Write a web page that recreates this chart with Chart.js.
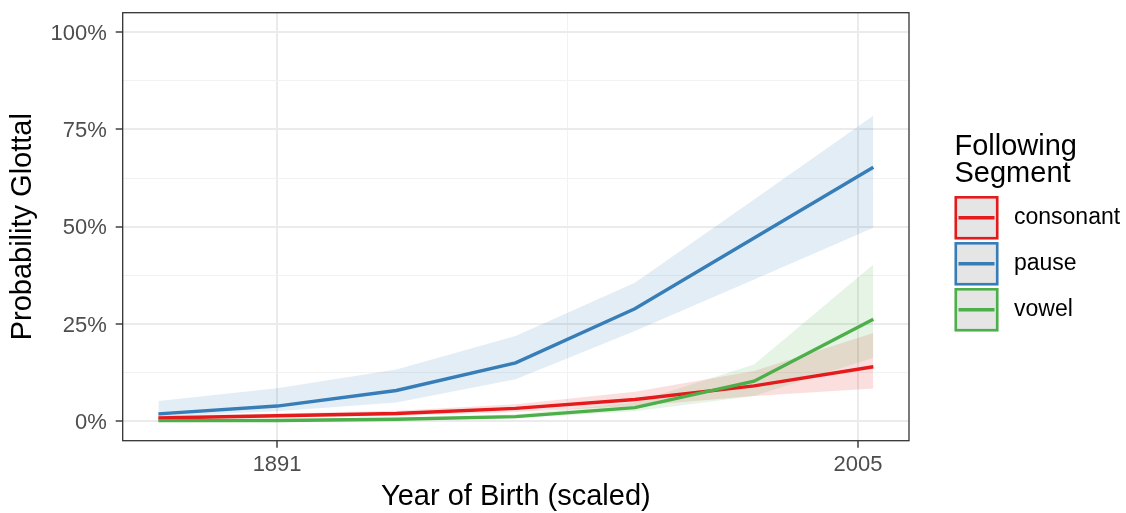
<!DOCTYPE html>
<html lang="en">
<head>
    <meta charset="UTF-8">
    <title>Probability Glottal by Year of Birth</title>
    <script src="https://cdn.jsdelivr.net/npm/chart.js"></script>
    <style>
        html, body { margin: 0; padding: 0; background: #fff; }
        #wrap { width: 1126px; height: 513px; position: relative; }
    </style>
</head>
<body>
    <div id="wrap">
        <canvas id="glottalChart"></canvas>
    </div>

    <script>
        // x positions (year of birth, scaled back to years)
        const years = [1867.7, 1891, 1914.4, 1937.8, 1961.2, 1984.6, 2008];
        const xTickValues = [1891, 2005];
        const xMinorValues = [1948];
        const yTickValues = [0, 25, 50, 75, 100];
        const yMinorValues = [12.5, 37.5, 62.5, 87.5];

        const segments = ['consonant', 'pause', 'vowel'];
        const segmentColors = ['#E41A1C', '#377EB8', '#4DAF4A'];

        // fitted probability (%) and confidence band
        const consonantFit = [0.85, 1.4, 2.0, 3.3, 5.6, 9.1, 14.0];
        const consonantLow = [0.5, 0.9, 1.4, 2.4, 3.9, 6.5, 8.4];
        const consonantHigh = [1.5, 2.0, 2.7, 4.4, 7.6, 12.9, 22.7];

        const pauseFit = [1.9, 3.9, 7.9, 15.0, 28.9, 47.1, 65.3];
        const pauseLow = [1.2, 2.6, 4.8, 10.8, 23.2, 36.4, 49.7];
        const pauseHigh = [5.2, 8.5, 13.3, 21.9, 35.6, 57.0, 78.5];

        const vowelFit = [0.15, 0.2, 0.5, 1.2, 3.5, 10.3, 26.2];
        const vowelLow = [0.0, 0.1, 0.3, 0.8, 2.6, 6.5, 16.3];
        const vowelHigh = [0.3, 0.5, 0.9, 1.8, 4.8, 14.6, 40.3];

        const fits = [consonantFit, pauseFit, vowelFit];
        const lows = [consonantLow, pauseLow, vowelLow];
        const highs = [consonantHigh, pauseHigh, vowelHigh];

        const FONT = "'Liberation Sans', Arial, Helvetica, sans-serif";
        Chart.defaults.font.family = FONT;

        function toPoints(vals) {
            return years.map((x, i) => ({ x: x, y: vals[i] }));
        }

        function alpha(hex, a) {
            const n = parseInt(hex.slice(1), 16);
            return `rgba(${(n >> 16) & 255}, ${(n >> 8) & 255}, ${n & 255}, ${a})`;
        }

        // ribbons first (lower + upper filled to lower), then lines
        const datasets = [];
        segments.forEach((name, k) => {
            const lowIndex = datasets.length;
            datasets.push({
                label: name + ' low',
                data: toPoints(lows[k]),
                borderWidth: 0,
                pointRadius: 0,
                fill: false,
                order: 20 - k
            });
            datasets.push({
                label: name + ' high',
                data: toPoints(highs[k]),
                borderWidth: 0,
                pointRadius: 0,
                backgroundColor: alpha(segmentColors[k], 0.14),
                fill: { target: lowIndex },
                order: 20 - k
            });
        });
        segments.forEach((name, k) => {
            datasets.push({
                label: name,
                data: toPoints(fits[k]),
                borderColor: segmentColors[k],
                borderWidth: 3.4,
                pointRadius: 0,
                fill: false,
                tension: 0,
                order: 10 - k
            });
        });

        // ggplot-like panel border and legend
        const panelAndLegend = {
            id: 'panelAndLegend',
            afterDatasetsDraw(chart) {
                const { ctx, chartArea: a } = chart;
                ctx.save();
                ctx.strokeStyle = '#333333';
                ctx.lineWidth = 1.3;
                ctx.strokeRect(a.left, a.top, a.right - a.left, a.bottom - a.top);
                ctx.restore();
            },
            afterDraw(chart) {
                const ctx = chart.ctx;
                const left = 954.5;
                ctx.save();
                ctx.fillStyle = '#000';
                ctx.textAlign = 'left';
                ctx.textBaseline = 'alphabetic';
                ctx.font = `29px ${FONT}`;
                ctx.fillText('Following', left, 155);
                ctx.fillText('Segment', left, 182);

                const keyW = 44, keyH = 43.5, pitch = 46, top0 = 196;
                segments.forEach((name, k) => {
                    const y = top0 + k * pitch;
                    ctx.fillStyle = '#e5e5e5';
                    ctx.fillRect(left, y, keyW, keyH);
                    ctx.strokeStyle = segmentColors[k];
                    ctx.lineWidth = 2.6;
                    ctx.strokeRect(left + 1.3, y + 1.3, keyW - 2.6, keyH - 2.6);
                    ctx.beginPath();
                    ctx.moveTo(left + 4, y + keyH / 2);
                    ctx.lineTo(left + keyW - 4, y + keyH / 2);
                    ctx.lineWidth = 3.6;
                    ctx.stroke();

                    ctx.fillStyle = '#000';
                    ctx.font = `23px ${FONT}`;
                    ctx.textBaseline = 'middle';
                    ctx.fillText(name, 1014, y + keyH / 2);
                    ctx.textBaseline = 'alphabetic';
                });
                ctx.restore();
            }
        };

        function isMinor(list, v) {
            return list.some(m => Math.abs(m - v) < 1e-6);
        }

        const ctx = document.getElementById('glottalChart').getContext('2d');
        new Chart(ctx, {
            type: 'line',
            data: { datasets: datasets },
            options: {
                responsive: true,
                maintainAspectRatio: false,
                animation: false,
                devicePixelRatio: 1,
                layout: { padding: { top: 12.7, right: 217, bottom: 0, left: 0 } },
                plugins: {
                    legend: { display: false },
                    tooltip: { enabled: false },
                    filler: { drawTime: 'beforeDatasetsDraw' }
                },
                scales: {
                    x: {
                        type: 'linear',
                        min: 1860.7,
                        max: 2015.0,
                        afterBuildTicks: s => {
                            s.ticks = xTickValues.concat(xMinorValues).sort((a, b) => a - b).map(v => ({ value: v }));
                        },
                        afterFit: s => {
                            s.height = 72.3;
                            s.paddingLeft = 0;
                            s.paddingRight = 0;
                        },
                        border: { display: false },
                        grid: {
                            color: c => isMinor(xMinorValues, c.tick.value) ? '#f2f2f2' : '#ebebeb',
                            lineWidth: c => isMinor(xMinorValues, c.tick.value) ? 1 : 2,
                            tickColor: c => isMinor(xMinorValues, c.tick.value) ? 'rgba(0,0,0,0)' : '#333333',
                            tickWidth: 1.4,
                            tickLength: 7,
                            drawTicks: true
                        },
                        ticks: {
                            autoSkip: false,
                            maxRotation: 0,
                            padding: 4,
                            color: '#4d4d4d',
                            font: { size: 22 },
                            callback: v => isMinor(xMinorValues, v) ? '' : String(v)
                        },
                        title: {
                            display: true,
                            text: 'Year of Birth (scaled)',
                            color: '#000',
                            font: { size: 29, lineHeight: 1.1 },
                            padding: { top: 0, bottom: 0 }
                        }
                    },
                    y: {
                        min: -5,
                        max: 105,
                        afterBuildTicks: s => {
                            s.ticks = yTickValues.concat(yMinorValues).sort((a, b) => a - b).map(v => ({ value: v }));
                        },
                        afterFit: s => {
                            s.width = 122.7;
                            s.paddingTop = 0;
                            s.paddingBottom = 0;
                        },
                        border: { display: false },
                        grid: {
                            color: c => isMinor(yMinorValues, c.tick.value) ? '#f2f2f2' : '#ebebeb',
                            lineWidth: c => isMinor(yMinorValues, c.tick.value) ? 1 : 2,
                            tickColor: c => isMinor(yMinorValues, c.tick.value) ? 'rgba(0,0,0,0)' : '#333333',
                            tickWidth: 1.4,
                            tickLength: 7,
                            drawTicks: true
                        },
                        ticks: {
                            autoSkip: false,
                            padding: 9,
                            labelOffset: 1.5,
                            color: '#4d4d4d',
                            font: { size: 22 },
                            callback: v => isMinor(yMinorValues, v) ? '' : v + '%'
                        },
                        title: {
                            display: true,
                            text: 'Probability Glottal',
                            color: '#000',
                            font: { size: 29, lineHeight: 1.1 },
                            padding: { top: 7.5, bottom: 0 }
                        }
                    }
                }
            },
            plugins: [panelAndLegend]
        });
    </script>
</body>
</html>
